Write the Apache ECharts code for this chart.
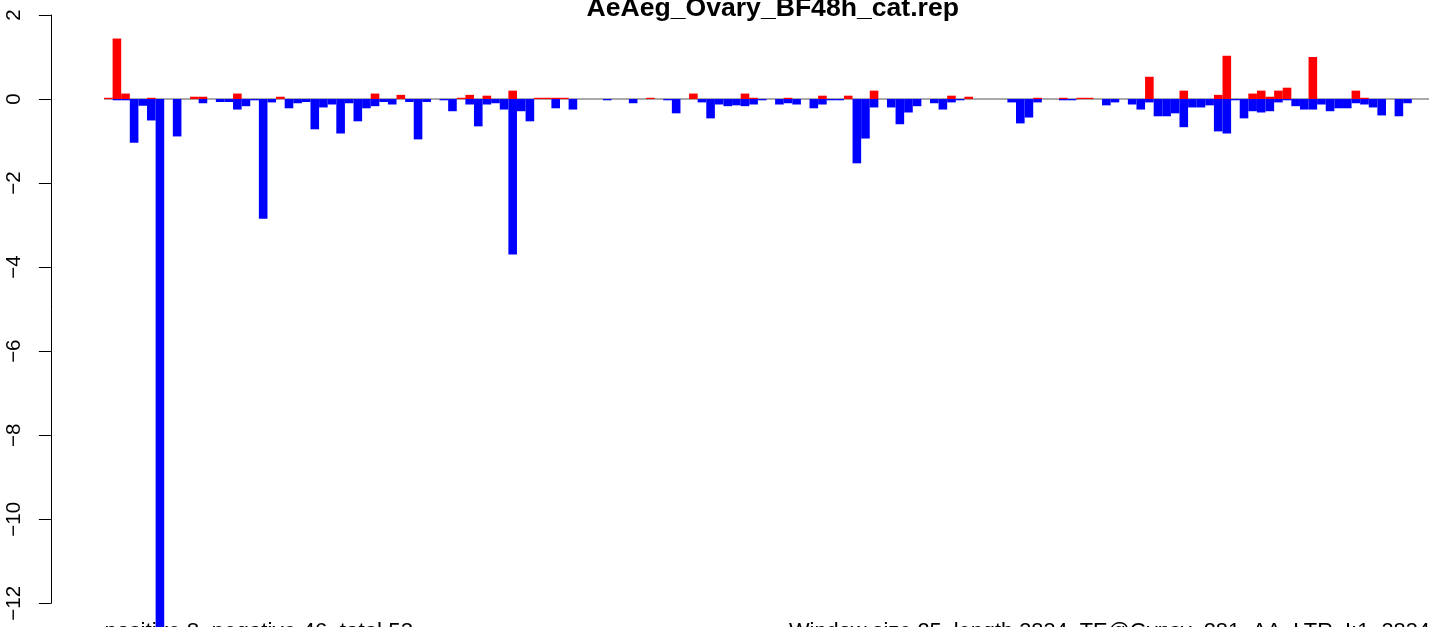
<!DOCTYPE html>
<html>
<head>
<meta charset="utf-8">
<script src="https://cdn.jsdelivr.net/npm/echarts@6/dist/echarts.min.js"></script>
<style>
html,body{margin:0;padding:0;background:#fff;}
#chart{width:1429px;height:627px;}
</style>
</head>
<body>
<div id="chart"></div>
<script>
// ---- data ----
const titleText = 'AeAeg_Ovary_BF48h_cat.rep';
const leftNote = 'positive 8, negative 46, total 53';
const rightNote = 'Window size 25, length 3834, TE@Gypsy_281_AA_LTR_I:1..3834';
const yTicks = [2, 0, -2, -4, -6, -8, -10, -12];
const windowCount = 154;
const windows = Array.from({length: windowCount}, (_, i) => i + 1);

const positive = [
  0.03, 1.44, 0.13, 0, 0, 0.03, 0, 0, 0, 0,
  0.055, 0.055, 0, 0, 0, 0.13, 0, 0, 0, 0,
  0.055, 0, 0, 0, 0, 0, 0, 0, 0, 0,
  0, 0.13, 0, 0, 0.10, 0, 0, 0, 0, 0,
  0, 0.03, 0.10, 0, 0.08, 0, 0, 0.2, 0, 0,
  0.03, 0.03, 0.03, 0.03, 0, 0, 0, 0, 0, 0,
  0, 0, 0, 0.03, 0, 0, 0, 0, 0.13, 0,
  0, 0, 0, 0, 0.13, 0.03, 0, 0, 0, 0.03,
  0, 0, 0, 0.08, 0, 0, 0.08, 0, 0, 0.2,
  0, 0, 0, 0, 0, 0, 0, 0, 0.08, 0,
  0.055, 0, 0, 0, 0, 0, 0, 0, 0.03, 0,
  0, 0.03, 0, 0.03, 0.03, 0, 0, 0, 0, 0,
  0, 0.53, 0, 0, 0, 0.2, 0, 0, 0, 0.1,
  1.03, 0, 0, 0.13, 0.2, 0.055, 0.2, 0.27, 0, 0,
  1.0, 0, 0, 0, 0, 0.2, 0.03, 0, 0, 0,
  0, 0, 0, 0
];
const negative = [
  0, -0.03, -0.03, -1.04, -0.16, -0.51, -13, 0, -0.89, 0,
  0, -0.1, 0, -0.07, -0.07, -0.25, -0.17, -0.03, -2.85, -0.08,
  0, -0.22, -0.1, -0.07, -0.72, -0.2, -0.13, -0.82, -0.1, -0.53,
  -0.22, -0.17, -0.07, -0.13, 0, -0.07, -0.96, -0.07, 0, -0.03,
  -0.29, 0, -0.13, -0.65, -0.13, -0.1, -0.25, -3.7, -0.29, -0.53,
  0, 0, -0.22, 0, -0.25, 0, 0, 0, -0.03, 0,
  0, -0.1, 0, 0, 0, -0.03, -0.34, 0, 0, -0.08,
  -0.46, -0.13, -0.17, -0.15, -0.17, -0.13, -0.03, 0, -0.13, -0.1,
  -0.13, 0, -0.22, -0.13, -0.03, -0.03, 0, -1.53, -0.94, -0.2,
  0, -0.2, -0.6, -0.32, -0.17, 0, -0.1, -0.25, -0.08, -0.03,
  0, 0, 0, 0, 0, -0.08, -0.58, -0.44, -0.08, 0,
  0, -0.03, -0.03, 0, 0, 0, -0.15, -0.08, 0, -0.13,
  -0.25, -0.08, -0.41, -0.41, -0.34, -0.67, -0.2, -0.2, -0.15, -0.77,
  -0.82, -0.03, -0.46, -0.29, -0.32, -0.29, -0.08, -0.03, -0.17, -0.25,
  -0.25, -0.13, -0.29, -0.22, -0.22, -0.1, -0.13, -0.2, -0.39, 0,
  -0.41, -0.1, 0, 0
];
const zeroLine = [[0, 0], [windowCount, 0]];

// ---- layout ----
const barPx = 8.62;
const plotLeft = 104;
const font = '"Liberation Sans", Arial, Helvetica, sans-serif';

const chart = echarts.init(document.getElementById('chart'), null, {renderer: 'canvas'});
chart.setOption({
  animation: false,
  backgroundColor: '#ffffff',
  title: {
    text: titleText,
    left: 767.7,
    top: -10,
    textAlign: 'center',
    textStyle: {fontFamily: font, fontWeight: 'bold', fontSize: 26.6, color: '#000'}
  },
  grid: {left: plotLeft, top: 15, width: barPx * windowCount, height: 588.3, containLabel: false},
  xAxis: [
    {type: 'category', data: windows, boundaryGap: true, show: false},
    {type: 'value', min: 0, max: windowCount, show: false}
  ],
  yAxis: {
    type: 'value',
    min: -12, max: 2, interval: 2,
    offset: 53.1,
    splitLine: {show: false},
    axisLine: {show: true, onZero: false, lineStyle: {color: '#000', width: 1}},
    axisTick: {show: true, length: 12, lineStyle: {color: '#000', width: 1}},
    axisLabel: {
      rotate: 90, margin: 26,
      fontFamily: font, fontSize: 20.5, color: '#000',
      formatter: v => String(v).replace('-', '\u2212')
    }
  },
  series: [
    {
      type: 'line', xAxisIndex: 1, data: zeroLine, symbol: 'none', silent: true,
      lineStyle: {color: '#a9a9a9', width: 2}, z: 1
    },
    {
      type: 'bar', xAxisIndex: 0, data: positive, stack: 'w', barWidth: '100%',
      itemStyle: {color: '#ff0000'}, clip: false, z: 2
    },
    {
      type: 'bar', xAxisIndex: 0, data: negative, stack: 'w', barWidth: '100%',
      itemStyle: {color: '#0000ff'}, clip: false, z: 2
    }
  ],
  graphic: [
    {type: 'text', x: 104.5, y: 643, style: {text: leftNote, font: '22.4px ' + font, fill: '#000', verticalAlign: 'bottom'}},
    {type: 'text', x: 789, y: 643, style: {text: rightNote, font: '21.8px ' + font, fill: '#000', verticalAlign: 'bottom'}}
  ]
});
</script>
</body>
</html>
